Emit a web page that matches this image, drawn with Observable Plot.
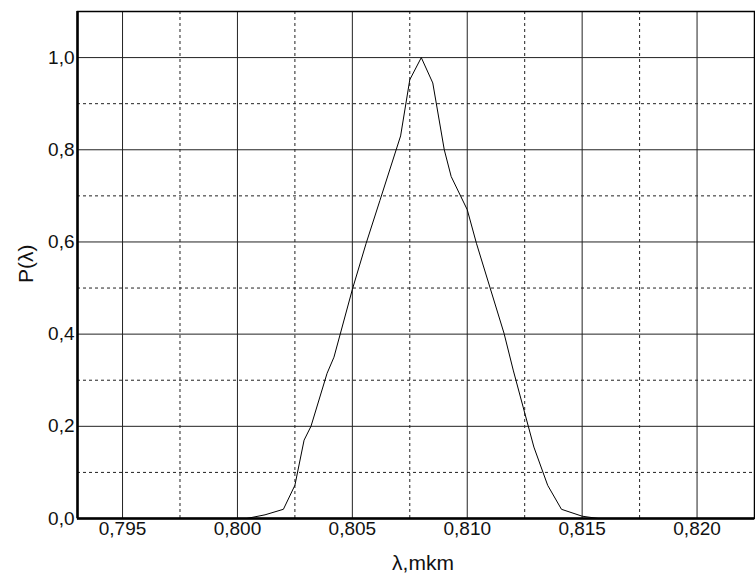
<!DOCTYPE html>
<html>
<head>
<meta charset="utf-8">
<script src="https://cdn.jsdelivr.net/npm/d3@7"></script>
<script src="https://cdn.jsdelivr.net/npm/@observablehq/plot@0.6"></script>
<style>
  html, body { margin: 0; padding: 0; background: #fff; }
  #chart svg { display: block; }
</style>
</head>
<body>
<div id="chart"></div>
<script>
// Spectral distribution P(λ)
const lambda = [0.8004, 0.8012, 0.8020, 0.8025, 0.8029, 0.8032, 0.8039, 0.8042, 0.8050, 0.8056, 0.8062, 0.8071, 0.8075, 0.8080, 0.8085, 0.8090, 0.8093, 0.8100, 0.8104, 0.8116, 0.8120, 0.8129, 0.8135, 0.8141, 0.8150, 0.8157];
const P      = [0.000,  0.008,  0.020,  0.072,  0.170,  0.200,  0.315,  0.350,  0.497,  0.597,  0.690,  0.830,  0.952,  1.000,  0.945,  0.800,  0.742,  0.670,  0.597,  0.402,  0.322,  0.155,  0.072,  0.020,  0.005,  0.000];

const xMajor = [0.795, 0.800, 0.805, 0.810, 0.815, 0.820];
const xMinor = [0.7975, 0.8025, 0.8075, 0.8125, 0.8175];
const yMajor = [0.0, 0.2, 0.4, 0.6, 0.8, 1.0];
const yMinor = [0.1, 0.3, 0.5, 0.7, 0.9];

const xTitle = "λ,mkm";
const yTitle = "P(λ)";

const xDomain = [0.79304, 0.8225];
const yDomain = [0, 1.1];

const data = lambda.map((l, i) => ({l, p: P[i]}));
const comma = (f) => (d) => d3.format(f)(d).replace(".", ",");

const font = "'Liberation Sans', Arial, sans-serif";

const chart = Plot.plot({
  width: 755,
  height: 576,
  marginLeft: 77,
  marginRight: 1,
  marginTop: 11,
  marginBottom: 58,
  style: {fontFamily: font, fontSize: "19px", color: "#111", background: "#fff"},
  x: {domain: xDomain},
  y: {domain: yDomain},
  marks: [
    Plot.ruleX(xMinor, {stroke: "#222", strokeWidth: 1, strokeDasharray: "3,3"}),
    Plot.ruleY(yMinor, {stroke: "#222", strokeWidth: 1, strokeDasharray: "3,3"}),
    Plot.ruleX(xMajor, {stroke: "#222", strokeWidth: 1}),
    Plot.ruleY(yMajor, {stroke: "#222", strokeWidth: 1}),
    Plot.line(data, {x: "l", y: "p", stroke: "#000", strokeWidth: 1}),
    Plot.frame({stroke: "#000", strokeWidth: 1.5}),
    Plot.ruleX([xDomain[0]], {stroke: "#000", strokeWidth: 2.5}),
    Plot.ruleY([0], {stroke: "#000", strokeWidth: 2.5}),
    Plot.axisX(xMajor, {tickSize: 0, tickPadding: 3, tickFormat: comma(".3f"), fontSize: 19, label: null}),
    Plot.axisY(yMajor, {tickSize: 0, tickPadding: 3, tickFormat: comma(".1f"), fontSize: 19, label: null}),
    Plot.text([xTitle], {frameAnchor: "bottom", lineAnchor: "bottom", dy: 51, dx: 7, fontSize: 21, fill: "#111"}),
    Plot.text([yTitle], {frameAnchor: "left", rotate: -90, dx: -51, dy: 18, fontSize: 21, fill: "#111"})
  ]
});
document.getElementById("chart").appendChild(chart);
</script>
</body>
</html>
